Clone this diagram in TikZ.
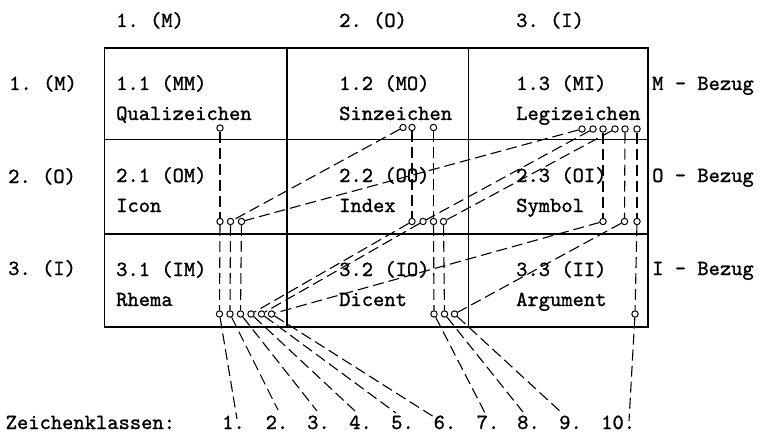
\documentclass[tikz,border=0pt]{standalone}
\usepackage{fontspec}
\setmonofont{lmmono10-regular}[Extension=.otf, FakeBold=1.2]
\begin{document}
\begin{tikzpicture}[x=1pt, y=-1pt,
  txt/.style={anchor=base west, inner sep=0pt, font=\fontsize{21.5}{25}\selectfont\ttfamily},
  pin/.style={circle, draw, line width=1pt, inner sep=0pt, minimum size=6.4pt, fill=white},
  link/.style={line width=1.1pt, dash pattern=on 11pt off 5pt},
  frame/.style={line width=1.4pt}]
\useasboundingbox (0,0) rectangle (773,433);

% table
\draw[frame] (104.5,48) rectangle (648,327);
\draw[frame] (287,48) -- (287,327) (468.5,48) -- (468.5,327);
\draw[frame] (104.5,139.5) -- (648,139.5) (104.5,234) -- (648,234);

% column and row headings
\node[txt] (h1) at (116,27) {1. (M)};
\node[txt] (h2) at (339,27) {2. (O)};
\node[txt] (h3) at (516,27) {3. (I)};
\node[txt] (v1) at (9,90) {1. (M)};
\node[txt] (v2) at (8,183) {2. (O)};
\node[txt] (v3) at (8,275) {3. (I)};
\node[txt] (b1) at (652,90) {M - Bezug};
\node[txt] (b2) at (652,182) {O - Bezug};
\node[txt] (b3) at (652,275) {I - Bezug};

% cells
\node[txt] (c11) at (116,90) {1.1 (MM)};
\node[txt] (n11) at (116,120) {Qualizeichen};
\node[txt] (c12) at (339,90) {1.2 (MO)};
\node[txt] (n12) at (339,120) {Sinzeichen};
\node[txt] (c13) at (516,90) {1.3 (MI)};
\node[txt] (n13) at (516,120) {Legizeichen};
\node[txt] (c21) at (116,182) {2.1 (OM)};
\node[txt] (n21) at (116,212) {Icon};
\node[txt] (c22) at (339,182) {2.2 (OO)};
\node[txt] (n22) at (339,212) {Index};
\node[txt] (c23) at (516,182) {2.3 (OI)};
\node[txt] (n23) at (516,212) {Symbol};
\node[txt] (c31) at (116,276) {3.1 (IM)};
\node[txt] (n31) at (116,306) {Rhema};
\node[txt] (c32) at (339,276) {3.2 (IO)};
\node[txt] (n32) at (339,306) {Dicent};
\node[txt] (c33) at (516,276) {3.3 (II)};
\node[txt] (n33) at (516,306) {Argument};

% class numbers
\node[txt] (zk) at (5.5,429) {Zeichenklassen:};
\foreach \k/\x in {1/222,2/265.5,3/307,4/349,5/391,6/433.5,7/476.5,8/517,9/559,10/601}
  \node[txt] (K\k) at (\x,429) {\k.};

% sockets: M row
\foreach \k/\x/\y in {1/220/128,2/403/127.5,3/582/129,4/412/127.5,5/593/129,
                      6/603/129,7/433.5/127.5,8/615/129,9/625/129,10/637/129}
  \node[pin] (M\k) at (\x,\y) {};
% sockets: O row
\foreach \k/\x in {1/220,2/230.5,3/241.5,4/412,5/423,6/603,7/433.5,8/443.5,9/624.5,10/637}
  \node[pin] (O\k) at (\x,221.5) {};
% sockets: I row
\foreach \k/\x in {1/219.5,2/230,3/240.5,4/251,5/261.5,6/271.5,7/434,8/444.5,9/454.5,10/635}
  \node[pin] (I\k) at (\x,314) {};

% free ends at the class numbers
\foreach \k/\x/\y in {1/237/419,2/278/410,3/317/411,4/355/411,5/396/413,
                      6/434/417,7/485/413,8/523/412,9/563/414,10/629/421}
  \coordinate (E\k) at (\x,\y);

% one chain per sign class
\foreach \k in {1,...,10}{
  \draw[link] (M\k) -- (O\k);
  \draw[link] (O\k) -- (I\k);
  \draw[link] (I\k) -- (E\k);
}
\end{tikzpicture}
\end{document}
